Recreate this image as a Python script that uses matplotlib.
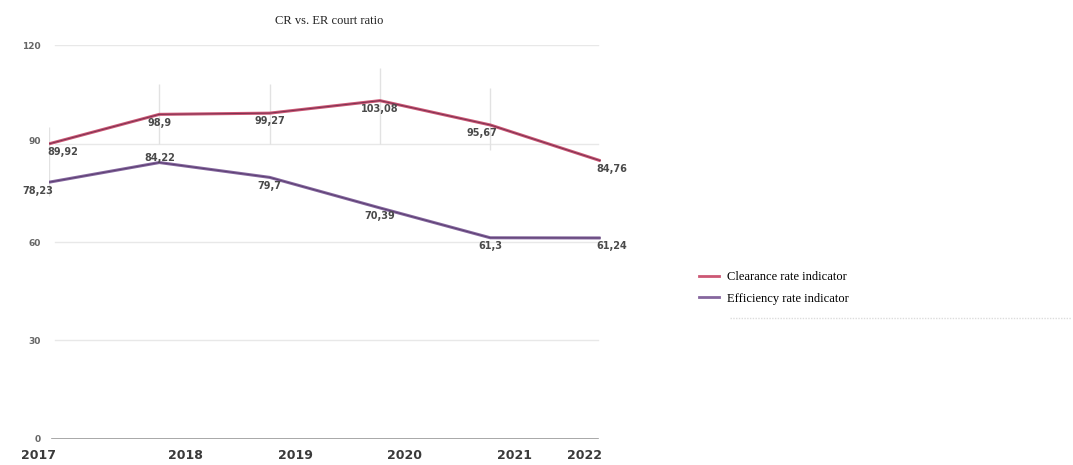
import matplotlib
matplotlib.use("Agg")
import matplotlib.pyplot as plt
import matplotlib.transforms as mtrans
from matplotlib.lines import Line2D

years = [2017, 2018, 2019, 2020, 2021, 2022]
clearance = [89.92, 98.9, 99.27, 103.08, 95.67, 84.76]
efficiency = [78.23, 84.22, 79.7, 70.39, 61.3, 61.24]
yticks = [0, 30, 60, 90, 120]
title = "CR vs. ER court ratio"
series_names = ["Clearance rate indicator", "Efficiency rate indicator"]

cr_color = "#cc5774"
er_color = "#85669e"
tick_color = "#666666"

fig = plt.figure(figsize=(10.73, 4.65), dpi=100)
ax = fig.add_axes([0.0457, 0.056, 0.514, 0.847])
ax.set_xlim(years[0], years[-1])
ax.set_ylim(0, 120)

for s in ax.spines.values():
    s.set_visible(False)

# horizontal grid
for v in yticks:
    if v == 0:
        ax.axhline(v, color="#9a9a9a", lw=1.2, xmin=0.005, xmax=0.995, zorder=1)
    else:
        ax.axhline(v, color="#e8e8e8", lw=1.0, xmin=0.01, xmax=0.995, zorder=1)

# faint vertical grid fragments
vseg = [(2017, 74, 95), (2018, 90, 108), (2019, 90, 108), (2020, 90, 113), (2021, 88, 107)]
for x, a, b in vseg:
    ax.vlines(x, a, b, color="#e2e2e2", lw=1.0, zorder=1)

ax.plot(years, clearance, color=cr_color, lw=2.2, zorder=3, solid_capstyle="butt")
ax.plot(years, clearance, color="#7a3050", lw=0.7, zorder=4)
ax.plot(years, efficiency, color=er_color, lw=2.2, zorder=3, solid_capstyle="butt")
ax.plot(years, efficiency, color="#5a3e70", lw=0.7, zorder=4)

def fmt(v):
    s = ("%.2f" % v).rstrip("0").rstrip(".")
    return s.replace(".", ",")

lab_kw = dict(fontsize=7, color="#4a4a4a", fontweight="semibold", zorder=5,
              family="DejaVu Sans")
cr_off = [(10, -6), (0, -6), (0, -6), (0, -6), (-6, -6), (8, -6)]
er_off = [(-8, -6), (0, 3), (0, -6), (0, -6), (0, -6), (8, -6)]
for x, v, (dx, dy) in zip(years, clearance, cr_off):
    ax.annotate(fmt(v), (x, v), xytext=(dx, dy), textcoords="offset points",
                ha="center", va="center", **lab_kw)
for x, v, (dx, dy) in zip(years, efficiency, er_off):
    ax.annotate(fmt(v), (x, v), xytext=(dx, dy), textcoords="offset points",
                ha="center", va="center", **lab_kw)

# ticks
ax.set_yticks(yticks)
ax.set_yticklabels([str(v) for v in yticks])
ax.tick_params(axis="y", length=0, pad=6, labelsize=6.5, labelcolor=tick_color)
ax.set_xticks(years)
ax.set_xticklabels([str(y) for y in years])
ax.tick_params(axis="x", length=0, pad=7, labelsize=9, labelcolor="#3a3a3a")
offsets = [-11, 26, 26, 25, 24, -16]
for lab, dx in zip(ax.get_xticklabels(), offsets):
    lab.set_transform(lab.get_transform() + mtrans.ScaledTranslation(dx / 100, 0, fig.dpi_scale_trans))
    lab.set_fontweight("semibold")
for lab in ax.get_yticklabels():
    lab.set_fontweight("semibold")
    if lab.get_text() == "90":
        lab.set_transform(lab.get_transform() + mtrans.ScaledTranslation(0, 3 / 100, fig.dpi_scale_trans))

fig.text(0.307, 0.955, title, ha="center", va="center", fontsize=9,
         family="Liberation Serif", color="#222222")

handles = [Line2D([], [], color=cr_color, lw=2), Line2D([], [], color=er_color, lw=2)]
leg = fig.legend(handles, series_names, loc="center left", bbox_to_anchor=(0.641, 0.381),
                 frameon=False, handlelength=1.6, handletextpad=0.6, labelspacing=0.75,
                 prop={"family": "Liberation Serif", "size": 9})

fig.add_artist(Line2D([0.68, 0.998], [0.317, 0.317], transform=fig.transFigure,
                      color="#dcdcdc", lw=1.0, ls=(0, (1, 1))))

fig.savefig("out.png", dpi=100, facecolor="white")
